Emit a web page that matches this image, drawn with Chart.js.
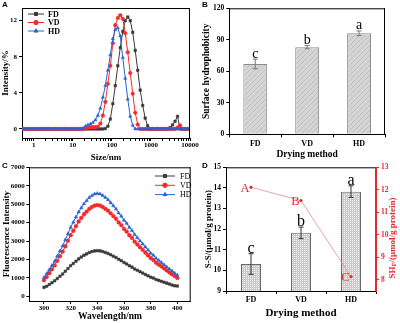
<!DOCTYPE html>
<html>
<head>
<meta charset="utf-8">
<title>Drying method</title>
<script src="https://cdn.jsdelivr.net/npm/chart.js@4.4.1/dist/chart.umd.min.js"></script>
<style>
  body { margin: 0; background: #fff; }
  #fig { position: relative; width: 400px; height: 323px; overflow: hidden; background: #fff; }
  #fig canvas { position: absolute; }
  .tag { position: absolute; font: bold 8px "Liberation Sans", Arial, sans-serif; color: #000; }
</style>
</head>
<body>
<div id="fig">
  <canvas id="chartC" width="200" height="163" style="left:0;top:160px"></canvas>
  <canvas id="chartD" width="200" height="163" style="left:200px;top:160px"></canvas>
  <canvas id="chartA" width="200" height="166" style="left:0;top:0"></canvas>
  <canvas id="chartB" width="200" height="160" style="left:200px;top:0"></canvas>
  <div class="tag" style="left:2px;top:0">A</div>
  <div class="tag" style="left:202px;top:0">B</div>
  <div class="tag" style="left:2px;top:161px">C</div>
  <div class="tag" style="left:202px;top:161px">D</div>
</div>
<script>
// ── data ──
const groups = ['FD', 'VD', 'HD'];

// A: particle size distribution (Malvern bins, nm) and intensity %
const sizeNm = [0.4,0.4632,0.5365,0.6213,0.7195,0.8332,0.9649,1.117,1.294,1.499,1.736,2.010,2.328,2.696,3.122,3.615,4.187,4.849,5.615,6.503,
  7.531,8.721,10.10,11.70,13.54,15.69,18.17,21.04,24.36,28.21,32.67,37.84,43.82,50.75,58.77,68.06,78.82,91.28,105.7,122.4,
  141.8,164.2,190.1,220.2,255.0,295.3,342.0,396.1,458.7,531.2,615.1,712.4,825.0,955.4,1106,1281,1484,1718,1990,2305,
  2669,3091,3580,4145,4801,5560,6439,7456,8635,10000];
const intFD = [0,0,0,0,0,0,0,0,0,0,0,0,0,0,0,0,0,0,0,0,
  0,0,0,0,0,0,0,0,0,0,0,0,0,0,0,0.05,0.3,1.1,2.8,4.8,
  7.0,9.0,10.8,12.0,12.4,12.0,10.7,8.7,6.5,4.3,2.6,1.2,0.35,0,0,0,0,0,0,0,
  0,0.15,0.45,0.85,1.4,0,0,0,0,0];
const intVD = [0,0,0,0,0,0,0,0,0,0,0,0,0,0,0,0,0,0,0,0,
  0,0,0,0,0,0,0,0.1,0.15,0.2,0.2,0.2,0.25,0.6,1.5,3.0,5.0,7.0,9.5,11.5,
  12.3,12.6,12.2,10.6,8.5,6.2,3.9,1.8,0.5,0,0,0,0,0,0,0,0,0,0,0,
  0,0,0,0,0.15,0.4,0,0,0,0];
const intHD = [0,0,0,0,0,0,0,0,0,0,0,0,0,0,0,0,0,0,0,0,
  0,0,0,0,0,0,0.05,0.3,0.45,0.55,0.7,1.0,1.5,2.3,3.5,4.8,6.5,8.2,10.0,11.0,
  11.2,10.3,7.9,5.6,3.3,1.4,0.4,0,0,0,0,0,0,0,0,0,0,0,0,0,
  0,0,0,0,0,0,0,0,0,0];
const sizeTicks = [1, 10, 100, 1000, 10000];
const intTicks = [0, 4, 8, 12];

// B: surface hydrophobicity
const hydro = [67, 83, 96.2];
const hydroErr = [4.6, 1.5, 2.2];
const hydroLetters = ['c', 'b', 'a'];
const hydroTicks = [0, 30, 60, 90, 120];

// C: fluorescence emission spectra
const waveNm = [300,302,304,306,308,310,312,314,316,318,320,322,324,326,328,330,332,334,336,338,
  340,342,344,346,348,350,352,354,356,358,360,362,364,366,368,370,372,374,376,378,
  380,382,384,386,388,390,392,394,396,398,400];
const fluFD = [490,546,645,744,843,967,1091,1215,1364,1513,1662,1786,1910,2034,2133,2232,2306,2381,2430,2468,
  2480,2468,2430,2381,2331,2257,2182,2108,2009,1934,1835,1761,1662,1587,1488,1414,1339,1265,1190,1116,
  1042,992,918,868,818,769,719,670,620,575,560];
const fluVD = [880,1050,1260,1470,1680,1930,2180,2430,2720,3020,3320,3560,3810,4060,4260,4455,4600,4750,4850,4925,
  4950,4925,4850,4750,4650,4505,4355,4210,4010,3860,3660,3515,3315,3170,2970,2820,2670,2525,2375,2230,
  2080,1980,1830,1730,1635,1520,1410,1300,1200,1100,1000];
const fluHD = [1020,1230,1450,1670,1900,2180,2455,2735,3070,3400,3740,4020,4300,4575,4800,5020,5190,5360,5470,5550,
  5580,5550,5470,5360,5245,5080,4910,4740,4520,4350,4130,3960,3740,3570,3350,3180,3010,2845,2680,2510,
  2345,2230,2065,1950,1840,1720,1600,1480,1370,1260,1150];
const waveTicks = [300, 320, 340, 360, 380, 400];
const fluTicks = [0, 1000, 2000, 3000, 4000, 5000, 6000, 7000];

// D: disulfide bonds (bars) and free SH (line)
const ssBond = [10.31, 11.82, 13.82];
const ssErr = [0.5, 0.28, 0.28];
const ssLetters = ['c', 'b', 'a'];
const shFree = [12.11, 11.52, 8.14];
const shLabels = ['A', 'B', 'C'];
const ssTicks = [9, 10, 11, 12, 13, 14, 15];
const shTicks = [8, 9, 10, 11, 12, 13];

// ── shared styling ──
const serif = '"Liberation Serif", "Times New Roman", serif';
Chart.defaults.font.family = serif;
Chart.defaults.color = '#000';
Chart.defaults.animation = false;
const RED = '#e8262b';
const series = [
  { color: '#3a3a3a', style: 'rect' },
  { color: '#f42a2a', style: 'circle' },
  { color: '#2a62d6', style: 'triangle' }
];
const plain = v => String(v);

function useTicks(list) {
  return s => { s.ticks = list.map(v => ({ value: v, major: true })); };
}

function axisBase(extra) {
  return Object.assign({
    grid: { display: true, drawOnChartArea: false, drawTicks: true, tickLength: 3, color: '#000' },
    border: { display: true, color: '#000', width: 1 }
  }, extra);
}

function hatch(bg, line, gap) {
  const c = document.createElement('canvas');
  c.width = c.height = gap;
  const g = c.getContext('2d');
  g.fillStyle = bg; g.fillRect(0, 0, gap, gap);
  g.strokeStyle = line; g.lineWidth = 0.8;
  g.beginPath();
  g.moveTo(0, gap); g.lineTo(gap, 0);
  g.moveTo(-1, 1); g.lineTo(1, -1);
  g.moveTo(gap - 1, gap + 1); g.lineTo(gap + 1, gap - 1);
  g.stroke();
  return g.createPattern(c, 'repeat');
}

const frame = (rightColor) => ({
  id: 'frame',
  afterDraw(chart) {
    const { left, top, right, bottom } = chart.chartArea, ctx = chart.ctx;
    ctx.save();
    ctx.lineWidth = 1;
    ctx.strokeStyle = '#000';
    ctx.beginPath();
    ctx.moveTo(left, top + 0.5); ctx.lineTo(right, top + 0.5);
    ctx.stroke();
    ctx.strokeStyle = rightColor || '#000';
    ctx.beginPath();
    ctx.moveTo(right - 0.5, top); ctx.lineTo(right - 0.5, bottom);
    ctx.stroke();
    ctx.restore();
  }
});

function lineLegend(x0, x1, tx, y0, dy, font) {
  return {
    id: 'lineLegend',
    afterDraw(chart) {
      const ctx = chart.ctx;
      ctx.save();
      chart.data.datasets.forEach((ds, i) => {
        const y = y0 + i * dy;
        ctx.strokeStyle = ds.borderColor; ctx.lineWidth = 1;
        ctx.beginPath(); ctx.moveTo(x0, y); ctx.lineTo(x1, y); ctx.stroke();
        ctx.fillStyle = ds.pointBackgroundColor; ctx.strokeStyle = ds.borderColor;
        Chart.helpers.drawPoint(ctx, { pointStyle: ds.pointStyle, radius: 2.2, rotation: 0, borderWidth: 0.5 }, (x0 + x1) / 2, y);
        ctx.fillStyle = '#000'; ctx.font = font; ctx.textAlign = 'left'; ctx.textBaseline = 'middle';
        ctx.fillText(ds.label, tx, y + 0.5);
      });
      ctx.restore();
    }
  };
}

function barExtras(err, letters, font, errColor, capW, gapPx) {
  return {
    id: 'barExtras',
    afterDatasetsDraw(chart) {
      const ctx = chart.ctx, y = chart.scales.y;
      const meta = chart.getDatasetMeta(0), vals = chart.data.datasets[0].data;
      ctx.save();
      meta.data.forEach((bar, i) => {
        const t = y.getPixelForValue(vals[i] + err[i]), b = y.getPixelForValue(vals[i] - err[i]);
        ctx.strokeStyle = errColor; ctx.lineWidth = 1;
        ctx.beginPath();
        ctx.moveTo(bar.x, t); ctx.lineTo(bar.x, b);
        ctx.moveTo(bar.x - capW, t); ctx.lineTo(bar.x + capW, t);
        ctx.moveTo(bar.x - capW, b); ctx.lineTo(bar.x + capW, b);
        ctx.stroke();
        ctx.fillStyle = '#000'; ctx.font = font; ctx.textAlign = 'center'; ctx.textBaseline = 'alphabetic';
        ctx.fillText(letters[i], bar.x, t - gapPx);
      });
      ctx.restore();
    }
  };
}

function lineSeries(label, xs, ys, k, radius) {
  return {
    label,
    data: xs.map((x, i) => ({ x, y: ys[i] })),
    borderColor: series[k].color,
    backgroundColor: series[k].color,
    pointBackgroundColor: series[k].color,
    pointBorderColor: series[k].color,
    pointStyle: series[k].style,
    pointRadius: radius,
    pointBorderWidth: 0.5,
    borderWidth: 1,
    tension: 0,
    order: 2 - k
  };
}

// ── A: size distribution ──
const sizeMinor = [];
[0.1, 1, 10, 100, 1000].forEach(d => { for (let m = 2; m <= 9; m++) { const v = m * d; if (v >= 0.5 && v < 10000) sizeMinor.push(v); } });

new Chart(document.getElementById('chartA'), {
  type: 'line',
  data: {
    datasets: [
      lineSeries('FD', sizeNm, intFD, 0, 1.8),
      lineSeries('VD', sizeNm, intVD, 1, 1.8),
      lineSeries('HD', sizeNm, intHD, 2, 1.9)
    ]
  },
  options: {
    responsive: false,
    layout: { padding: { left: 0, top: 8, right: 10, bottom: 0 } },
    plugins: { legend: { display: false }, tooltip: { enabled: false } },
    scales: {
      x: axisBase({
        type: 'logarithmic', min: 0.5, max: 10000,
        afterBuildTicks: s => {
          s.ticks = sizeTicks.map(v => ({ value: v, major: true }))
            .concat(sizeMinor.map(v => ({ value: v, major: false })))
            .sort((a, b) => a.value - b.value);
        },
        afterFit: s => { s.height = 28; },
        ticks: { autoSkip: false, maxRotation: 0, padding: 0, font: { size: 7, weight: 'bold' },
          callback: (v) => sizeTicks.includes(v) ? String(v) : '' },
        title: { display: true, text: 'Size/nm', font: { size: 9, weight: 'bold' }, padding: { top: 0, bottom: 3 } }
      }),
      y: axisBase({
        min: -1, max: 13.4,
        afterBuildTicks: useTicks(intTicks),
        afterFit: s => { s.width = 22; },
        ticks: { padding: 2, font: { size: 7, weight: 'bold' }, callback: plain },
        title: { display: true, text: 'Intensity/%', font: { size: 9, weight: 'bold' }, padding: { top: 0, bottom: 0 } }
      })
    }
  },
  plugins: [frame(), lineLegend(28, 44, 48, 14, 8.5, 'bold 8px ' + serif)]
});

// ── B: surface hydrophobicity ──
new Chart(document.getElementById('chartB'), {
  type: 'bar',
  data: {
    labels: groups,
    datasets: [{
      data: hydro,
      backgroundColor: hatch('#d4d4d4', '#bdbdbd', 5),
      borderColor: '#8c8c8c',
      borderWidth: 1,
      barPercentage: 0.46,
      categoryPercentage: 1
    }]
  },
  options: {
    responsive: false,
    layout: { padding: { left: 0, top: 8.3, right: 15, bottom: 0 } },
    plugins: { legend: { display: false }, tooltip: { enabled: false } },
    scales: {
      x: axisBase({
        afterFit: s => { s.height = 160 - 134.3; },
        ticks: { padding: 2, font: { size: 8, weight: 'bold' } },
        title: { display: true, text: 'Drying method', font: { size: 9.5, weight: 'bold' }, padding: { top: 0, bottom: 0 } }
      }),
      y: axisBase({
        min: 0, max: 120,
        afterBuildTicks: useTicks(hydroTicks),
        afterFit: s => { s.width = 29.3; },
        ticks: { padding: 2, font: { size: 7.5, weight: 'bold' }, callback: plain },
        title: { display: true, text: 'Surface hydrophobicity', font: { size: 9.5, weight: 'bold' }, padding: { top: 1, bottom: 0 } }
      })
    }
  },
  plugins: [frame(), barExtras(hydroErr, hydroLetters, '14px ' + serif, '#7a7a7a', 2.5, 1.5)]
});

// ── C: fluorescence spectra ──
new Chart(document.getElementById('chartC'), {
  type: 'line',
  data: {
    datasets: [
      lineSeries('FD', waveNm, fluFD, 0, 1.8),
      lineSeries('VD', waveNm, fluVD, 1, 1.9),
      lineSeries('HD', waveNm, fluHD, 2, 2)
    ]
  },
  options: {
    responsive: false,
    layout: { padding: { left: 0, top: 7.3, right: 9.3, bottom: 0 } },
    plugins: { legend: { display: false }, tooltip: { enabled: false } },
    scales: {
      x: axisBase({
        type: 'linear', min: 289, max: 410,
        afterBuildTicks: useTicks(waveTicks),
        afterFit: s => { s.height = 163 - 141; },
        ticks: { padding: 0, font: { size: 7, weight: 'bold' }, callback: plain },
        title: { display: true, text: 'Wavelength/nm', font: { size: 9.5, weight: 'bold' }, padding: { top: 0, bottom: 1 } }
      }),
      y: axisBase({
        min: -250, max: 7000,
        afterBuildTicks: useTicks(fluTicks),
        afterFit: s => { s.width = 29.3; },
        ticks: { padding: 1.5, font: { size: 7, weight: 'bold' }, callback: plain },
        title: { display: true, text: 'Fluorescence Intensity', font: { size: 9, weight: 'bold' }, padding: { top: 1, bottom: 0 } }
      })
    }
  },
  plugins: [frame(), lineLegend(155, 175, 180, 16, 9.3, '8px ' + serif)]
});

// ── D: S-S bars and SH line ──
const shLabelPlugin = {
  id: 'shLabels',
  afterDatasetsDraw(chart) {
    const ctx = chart.ctx, meta = chart.getDatasetMeta(1);
    ctx.save();
    ctx.fillStyle = RED; ctx.font = '12.5px ' + serif; ctx.textAlign = 'right'; ctx.textBaseline = 'middle';
    meta.data.forEach((p, i) => ctx.fillText(shLabels[i], p.x - 1.5, p.y + 1));
    ctx.restore();
  }
};
const shTitle = {
  id: 'shTitle',
  afterDraw(chart) {
    const ctx = chart.ctx;
    const big = 'bold 9px ' + serif, small = 'bold 6.5px ' + serif;
    const parts = [['SH', big, 0], ['F', small, 2], ['/(\u03bcmol/g protein)', big, 0]];
    ctx.save();
    ctx.translate(192.5, 78);
    ctx.rotate(-Math.PI / 2);
    let total = 0;
    parts.forEach(p => { ctx.font = p[1]; total += ctx.measureText(p[0]).width; });
    let x = -total / 2;
    ctx.fillStyle = RED; ctx.textBaseline = 'middle'; ctx.textAlign = 'left';
    parts.forEach(p => { ctx.font = p[1]; ctx.fillText(p[0], x, p[2]); x += ctx.measureText(p[0]).width; });
    ctx.restore();
  }
};

new Chart(document.getElementById('chartD'), {
  data: {
    labels: groups,
    datasets: [
      {
        type: 'bar',
        data: ssBond,
        yAxisID: 'y',
        backgroundColor: hatch('#f4f4f4', '#8a8a8a', 2.5),
        borderColor: '#6a6a6a',
        borderWidth: 1,
        barPercentage: 0.4,
        categoryPercentage: 1,
        order: 2
      },
      {
        type: 'line',
        data: shFree,
        yAxisID: 'y2',
        borderColor: '#f08a8a',
        borderWidth: 0.8,
        pointRadius: 1.2,
        pointBackgroundColor: RED,
        pointBorderColor: RED,
        tension: 0,
        order: 1
      }
    ]
  },
  options: {
    responsive: false,
    layout: { padding: { left: 0, top: 7.3, right: 0, bottom: 0 } },
    plugins: { legend: { display: false }, tooltip: { enabled: false } },
    scales: {
      x: axisBase({
        afterFit: s => { s.height = 163 - 131; },
        ticks: { padding: 1, font: { size: 8, weight: 'bold' } },
        title: { display: true, text: 'Drying method', font: { size: 11, weight: 'bold' }, padding: { top: 0, bottom: 3 } }
      }),
      y: axisBase({
        position: 'left', min: 9, max: 15,
        afterBuildTicks: useTicks(ssTicks),
        afterFit: s => { s.width = 26; },
        ticks: { padding: 2, font: { size: 7.5, weight: 'bold' }, callback: plain },
        title: { display: true, text: 'S-S/(\u03bcmol/g protein)', font: { size: 9, weight: 'bold' }, padding: { top: 3, bottom: 0 } }
      }),
      y2: {
        position: 'right', min: 7.5, max: 13,
        afterBuildTicks: useTicks(shTicks),
        afterFit: s => { s.width = 24; },
        grid: { display: true, drawOnChartArea: false, drawTicks: true, tickLength: 3, color: RED },
        border: { display: true, color: RED, width: 1 },
        ticks: { padding: 2, color: RED, font: { size: 7.5, weight: 'bold' }, callback: plain }
      }
    }
  },
  plugins: [frame(RED), barExtras(ssErr, ssLetters, '16px ' + serif, '#333', 2.5, 1), shLabelPlugin, shTitle]
});
</script>
</body>
</html>
